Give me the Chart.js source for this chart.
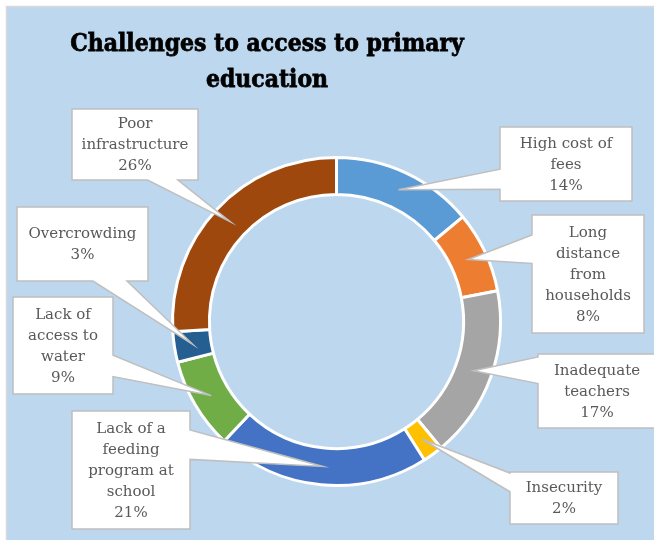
<!DOCTYPE html>
<html>
<head>
<meta charset="utf-8">
<script src="https://cdn.jsdelivr.net/npm/chart.js@4/dist/chart.umd.min.js"></script>
<style>
  html, body { margin: 0; padding: 0; background: #fff; }
  #wrap { width: 654px; height: 540px; position: relative; }
</style>
</head>
<body>
<div id="wrap"><canvas id="donut" width="654" height="540"></canvas></div>
<script>
// categories, split into the lines shown in each label box
const categories = [
  ["High cost of", "fees"],
  ["Long", "distance", "from", "households"],
  ["Inadequate", "teachers"],
  ["Insecurity"],
  ["Lack of a", "feeding", "program at", "school"],
  ["Lack of", "access to", "water"],
  ["Overcrowding"],
  ["Poor", "infrastructure"]
];
const shares = [14, 8, 17, 2, 21, 9, 3, 26]; // percent
const sliceColors = ["#5B9BD5", "#ED7D31", "#A5A5A5", "#FFC000", "#4472C4", "#70AD47", "#255E91", "#9E480E"];
const titleLines = ["Challenges to access to primary", "education"];

// label boxes: x, y, w, h, side of the pointer, pointer base (fractions of that side)
const boxes = [
  { x: 500, y: 127, w: 132, h: 74, side: "left", t1: 0.57, t2: 0.84 },
  { x: 532, y: 215, w: 112, h: 118, side: "left", t1: 0.17, t2: 0.41 },
  { x: 538, y: 354, w: 118, h: 74, side: "left", t1: 0.04, t2: 0.40 },
  { x: 510, y: 472, w: 108, h: 52, side: "left", t1: 0.02, t2: 0.38 },
  { x: 72, y: 411, w: 118, h: 118, side: "right", t1: 0.16, t2: 0.41 },
  { x: 13, y: 297, w: 100, h: 97, side: "right", t1: 0.60, t2: 0.82 },
  { x: 17, y: 207, w: 131, h: 74, side: "bottom", t1: 0.58, t2: 0.84 },
  { x: 72, y: 109, w: 126, h: 71, side: "bottom", t1: 0.60, t2: 0.84 }
];

function calloutPath(ctx, b, ax, ay) {
  const x0 = b.x, y0 = b.y, x1 = b.x + b.w, y1 = b.y + b.h;
  ctx.beginPath();
  ctx.moveTo(x0, y0);
  if (b.side === "top") { ctx.lineTo(x0 + b.w * b.t1, y0); ctx.lineTo(ax, ay); ctx.lineTo(x0 + b.w * b.t2, y0); }
  ctx.lineTo(x1, y0);
  if (b.side === "right") { ctx.lineTo(x1, y0 + b.h * b.t1); ctx.lineTo(ax, ay); ctx.lineTo(x1, y0 + b.h * b.t2); }
  ctx.lineTo(x1, y1);
  if (b.side === "bottom") { ctx.lineTo(x0 + b.w * b.t2, y1); ctx.lineTo(ax, ay); ctx.lineTo(x0 + b.w * b.t1, y1); }
  ctx.lineTo(x0, y1);
  if (b.side === "left") { ctx.lineTo(x0, y0 + b.h * b.t2); ctx.lineTo(ax, ay); ctx.lineTo(x0, y0 + b.h * b.t1); }
  ctx.closePath();
}

// panel background + title
const panel = {
  id: "panel",
  beforeDraw(chart) {
    const ctx = chart.ctx;
    ctx.save();
    ctx.fillStyle = "#BDD7EE";
    ctx.fillRect(7, 7, chart.width - 7, chart.height - 7);
    ctx.strokeStyle = "#D9D9D9";
    ctx.lineWidth = 1.5;
    ctx.beginPath();
    ctx.moveTo(6.5, chart.height);
    ctx.lineTo(6.5, 6.5);
    ctx.lineTo(chart.width, 6.5);
    ctx.stroke();

    // title, slightly stretched tall and thickened
    ctx.fillStyle = "#000";
    ctx.strokeStyle = "#000";
    ctx.lineWidth = 0.7;
    ctx.font = "700 22px DejaVu Serif";
    ctx.textAlign = "center";
    ctx.textBaseline = "alphabetic";
    [[titleLines[0], 51], [titleLines[1], 87]].forEach(([t, y]) => {
      ctx.save();
      ctx.translate(267, y);
      ctx.scale(1, 1.12);
      ctx.fillText(t, 0, 0);
      ctx.strokeText(t, 0, 0);
      ctx.restore();
    });
    ctx.restore();
  }
};

// data label boxes with pointers to the middle of each slice
const callouts = {
  id: "callouts",
  afterDatasetsDraw(chart) {
    const ctx = chart.ctx;
    const meta = chart.getDatasetMeta(0);
    ctx.save();
    meta.data.forEach((arc, i) => {
      const b = boxes[i];
      const p = arc.getCenterPoint();
      calloutPath(ctx, b, p.x, p.y);
      ctx.fillStyle = "#FFFFFF";
      ctx.fill();
      ctx.strokeStyle = "#BFBFBF";
      ctx.lineWidth = 1.5;
      ctx.stroke();

      const lines = categories[i].concat([shares[i] + "%"]);
      const lh = 21;
      const cx = b.x + b.w / 2;
      const cy = b.y + b.h / 2;
      ctx.fillStyle = "#595959";
      ctx.font = "15px 'DejaVu Serif', serif";
      ctx.textAlign = "center";
      ctx.textBaseline = "middle";
      lines.forEach((t, k) => {
        ctx.fillText(t, cx, cy + (k - (lines.length - 1) / 2) * lh + 1);
      });
    });
    ctx.restore();
  }
};

new Chart(document.getElementById("donut"), {
  type: "doughnut",
  data: {
    labels: categories,
    datasets: [{
      data: shares,
      backgroundColor: sliceColors,
      borderColor: "#FFFFFF",
      borderWidth: 3,
      hoverOffset: 0
    }]
  },
  options: {
    responsive: false,
    animation: false,
    cutout: "77.5%",
    layout: { padding: { left: 171, right: 152, top: 156, bottom: 53 } },
    plugins: {
      legend: { display: false },
      tooltip: { enabled: false },
      title: { display: false }
    }
  },
  plugins: [panel, callouts]
});
</script>
</body>
</html>
